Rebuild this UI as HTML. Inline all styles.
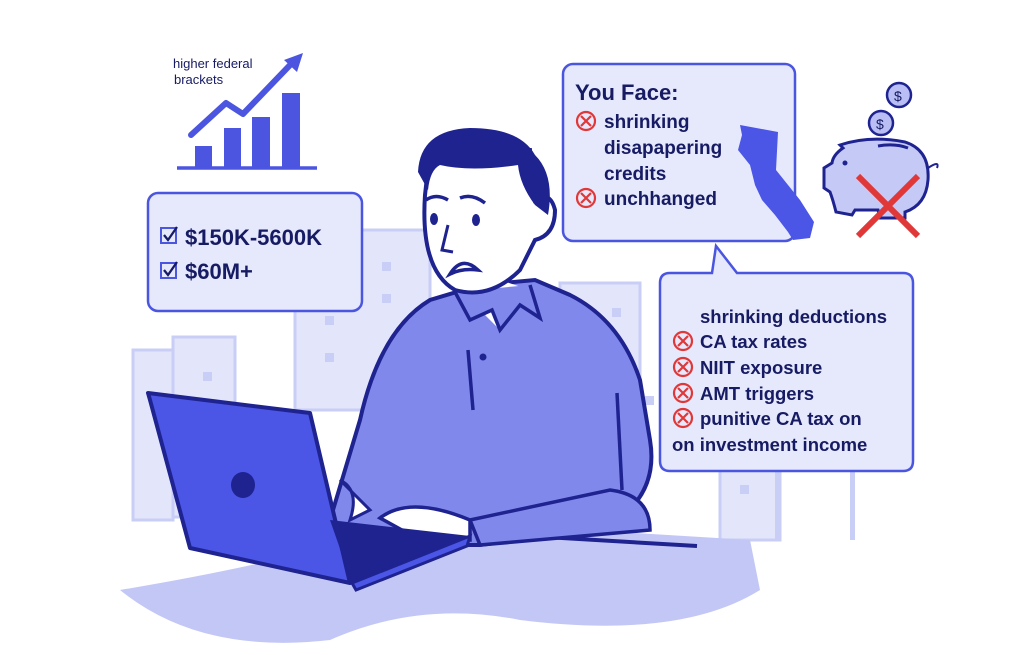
<!DOCTYPE html>
<html><head><meta charset="utf-8"><style>
html,body{margin:0;padding:0;background:#fff;}
svg{display:block;}
text{font-family:"Liberation Sans",sans-serif;fill:#161b63;font-weight:bold;}
</style></head><body>
<svg width="1024" height="655" viewBox="0 0 1024 655" xmlns="http://www.w3.org/2000/svg">
<g fill="#e3e6fb" stroke="#c9cef6" stroke-width="3">
<rect x="133" y="350" width="40" height="170"/>
<rect x="173" y="337" width="62" height="180"/>
<rect x="295" y="230" width="135" height="180"/>
<rect x="560" y="283" width="80" height="100"/>
<rect x="720" y="460" width="60" height="80" />
</g>
<g fill="#c9cef6">
<rect x="203" y="372" width="9" height="9"/><rect x="382" y="262" width="9" height="9"/><rect x="382" y="294" width="9" height="9"/>
<rect x="325" y="316" width="9" height="9"/><rect x="325" y="353" width="9" height="9"/><rect x="612" y="308" width="9" height="9"/>
<rect x="645" y="396" width="9" height="9"/><rect x="740" y="485" width="9" height="9"/>
<rect x="850" y="470" width="5" height="70"/><rect x="775" y="470" width="5" height="70"/>
</g>
<path d="M120 590 Q300 560 420 520 L750 540 L760 590 Q680 640 520 620 Q420 600 330 640 Q200 655 120 590Z" fill="#c3c7f6"/>
<line x1="545" y1="537" x2="697" y2="546" stroke="#1e2390" stroke-width="4"/>
<text x="173" y="68" font-size="13" style="font-weight:normal" fill="#161b63">higher federal</text>
<text x="174" y="84" font-size="13" style="font-weight:normal" fill="#161b63">brackets</text>
<g fill="#4b55e0">
<rect x="195" y="146" width="17" height="22"/><rect x="224" y="128" width="17" height="40"/>
<rect x="252" y="117" width="18" height="51"/><rect x="282" y="93" width="18" height="75"/>
</g>
<line x1="177" y1="168" x2="317" y2="168" stroke="#4b55e0" stroke-width="3.5"/>
<polyline points="191,135 226,103 243,114 292,63" fill="none" stroke="#4b55e0" stroke-width="6" stroke-linecap="round" stroke-linejoin="round"/>
<polygon points="303,53 284,60 297,72" fill="#4b55e0"/>
<rect x="148" y="193" width="214" height="118" rx="10" fill="#e6e8fb" stroke="#4a55e0" stroke-width="2.5"/>
<g fill="none" stroke="#4a55e0" stroke-width="2"><rect x="161" y="228" width="15" height="15"/><rect x="161" y="263" width="15" height="15"/></g>
<g fill="none" stroke="#161b63" stroke-width="2.3"><polyline points="164,235 168,240 177,227"/><polyline points="164,270 168,275 177,262"/></g>
<text x="185" y="245" font-size="22">$150K-5600K</text>
<text x="185" y="279" font-size="22">$60M+</text>
<path d="M330 520 L360 420 Q380 330 430 300 L480 285 L535 280 L570 295 Q620 320 640 380 L650 440 Q660 500 600 530 L480 545 L390 545Z" fill="#8088ec" stroke="#1e2390" stroke-width="4"/>
<path d="M470 300 L500 330 L530 290 L500 280Z" fill="#fff"/>
<path d="M455 292 L470 320 L492 310 L500 330 L520 305 L540 318 L530 285" fill="#8088ec" stroke="#1e2390" stroke-width="3.5"/>
<line x1="468" y1="350" x2="473" y2="410" stroke="#1e2390" stroke-width="3.5"/>
<line x1="617" y1="393" x2="622" y2="490" stroke="#1e2390" stroke-width="3.5"/>
<circle cx="483" cy="357" r="3.5" fill="#1e2390"/>
<path d="M470 520 L610 490 Q650 495 650 530 L480 545Z" fill="#8088ec" stroke="#1e2390" stroke-width="3.5"/>
<path d="M380 518 Q410 495 470 520 L470 540 L420 540 Z" fill="#fff" stroke="#1e2390" stroke-width="3.5"/>
<path d="M340 480 Q360 490 350 520 L370 510Z" fill="#fff" stroke="#1e2390" stroke-width="3"/>
<path d="M500 285 L505 255 L455 250 Z" fill="#fff"/>
<path d="M425 195 Q420 270 455 290 Q490 300 520 270 L535 240 Q555 235 555 210 Q550 190 535 200 L530 150 L430 150Z" fill="#fff" stroke="#1e2390" stroke-width="4"/>
<path d="M418 172 Q420 130 470 128 Q520 128 535 155 Q555 175 548 215 L535 205 Q520 185 518 165 Q470 172 440 165 Q430 170 428 190Z" fill="#1e2390"/>
<ellipse cx="434" cy="219" rx="4" ry="6" fill="#1e2390"/><ellipse cx="476" cy="220" rx="4" ry="6" fill="#1e2390"/>
<path d="M426 200 Q436 193 448 200 M460 198 Q472 193 485 203" stroke="#1e2390" stroke-width="3.5" fill="none"/>
<path d="M448 225 L442 250 L453 252" stroke="#1e2390" stroke-width="3" fill="none"/>
<path d="M450 274 Q462 255 478 270 Q462 268 450 274Z" fill="#fff" stroke="#1e2390" stroke-width="3.5"/>
<polygon points="148,393 310,413 350,583 190,548 150,400" fill="#4b55e6" stroke="#1e2390" stroke-width="4" stroke-linejoin="round"/>
<polygon points="330,520 470,536 352,583" fill="#1e2390"/>
<polygon points="352,583 470,536 467,546 356,590" fill="#4b55e6" stroke="#1e2390" stroke-width="3"/>
<ellipse cx="243" cy="485" rx="12" ry="13" fill="#1e2390"/>
<rect x="563" y="64" width="232" height="177" rx="10" fill="#e6e8fb" stroke="#4a55e0" stroke-width="2.5"/>
<text x="575" y="100" font-size="22">You Face:</text>
<g font-size="19">
<text x="604" y="128">shrinking</text>
<text x="604" y="154">disapapering</text>
<text x="604" y="180">credits</text>
<text x="604" y="205">unchhanged</text>
</g>
<path d="M740 125 L778 132 L776 170 L800 200 L814 222 L810 238 L793 240 L788 232 L775 215 L762 200 L755 185 L750 165 L738 150 L742 135Z" fill="#4b55e6"/>
<path d="M670 273 L712 273 L716 246 L737 273 L903 273 Q913 273 913 283 L913 461 Q913 471 903 471 L670 471 Q660 471 660 461 L660 283 Q660 273 670 273Z" fill="#e6e8fb" stroke="#4a55e0" stroke-width="2.5"/>
<g font-size="18.5">
<text x="700" y="323">shrinking deductions</text>
<text x="700" y="348">CA tax rates</text>
<text x="700" y="374">NIIT exposure</text>
<text x="700" y="400">AMT triggers</text>
<text x="700" y="425">punitive CA tax on</text>
<text x="672" y="451">on investment income</text>
</g>
<g fill="none" stroke="#e03838" stroke-width="2.2">
<g><circle cx="586" cy="121" r="9"/><path d="M581 116 L591 126 M591 116 L581 126"/></g>
<g transform="translate(0,77)"><circle cx="586" cy="121" r="9"/><path d="M581 116 L591 126 M591 116 L581 126"/></g>
<g transform="translate(97,220)"><circle cx="586" cy="121" r="9"/><path d="M581 116 L591 126 M591 116 L581 126"/></g>
<g transform="translate(97,246)"><circle cx="586" cy="121" r="9"/><path d="M581 116 L591 126 M591 116 L581 126"/></g>
<g transform="translate(97,272)"><circle cx="586" cy="121" r="9"/><path d="M581 116 L591 126 M591 116 L581 126"/></g>
<g transform="translate(97,297)"><circle cx="586" cy="121" r="9"/><path d="M581 116 L591 126 M591 116 L581 126"/></g>
</g>
<circle cx="899" cy="95" r="12" fill="#b9bef5" stroke="#1e2390" stroke-width="2.5"/>
<circle cx="881" cy="123" r="12" fill="#b9bef5" stroke="#1e2390" stroke-width="2.5"/>
<text x="894" y="101" font-size="14" style="font-weight:normal" fill="#1e2390">$</text>
<text x="876" y="129" font-size="14" style="font-weight:normal" fill="#1e2390">$</text>
<path d="M840 145 Q870 135 905 142 Q930 150 928 180 Q926 205 905 212 L905 218 L880 218 L878 210 L855 210 L852 215 L836 212 Q833 200 830 192 L824 188 L824 168 L832 163 Q833 155 843 148Z" fill="#c5c9f6" stroke="#1e2390" stroke-width="3"/>
<path d="M878 146 Q895 143 908 148" stroke="#1e2390" stroke-width="3" fill="none"/>
<circle cx="845" cy="163" r="2.5" fill="#1e2390"/>
<path d="M928 168 Q940 160 937 168" stroke="#1e2390" stroke-width="2" fill="none"/>
<path d="M858 176 L918 236 M918 176 L858 236" stroke="#e03838" stroke-width="6"/>
</svg>
</body></html>
